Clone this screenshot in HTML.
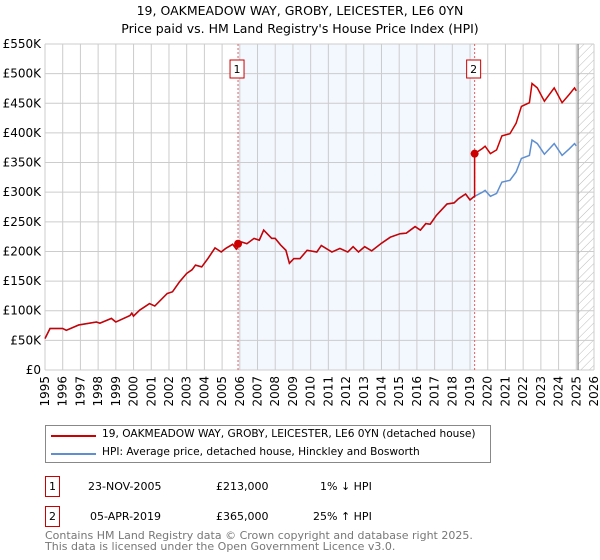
<!DOCTYPE html>
<html><head><meta charset="utf-8"><style>
body{margin:0;background:#fff;font-family:"DejaVu Sans","Liberation Sans",sans-serif;}
#wrap{position:relative;width:600px;height:560px;overflow:hidden;}
.t{position:absolute;font-size:12px;color:#000;white-space:nowrap;}
</style></head><body>
<div id="wrap">
<div class="t" style="left:0;width:600px;text-align:center;top:3px;font-size:12.5px">19, OAKMEADOW WAY, GROBY, LEICESTER, LE6 0YN</div>
<div class="t" style="left:0;width:600px;text-align:center;top:21px;font-size:12.5px">Price paid vs. HM Land Registry's House Price Index (HPI)</div>
<svg id="chart" width="600" height="420" style="position:absolute;left:0;top:0" font-family="DejaVu Sans, Liberation Sans, sans-serif" font-size="12"></svg>
<div style="position:absolute;left:45px;top:425px;width:444px;height:36px;border:1px solid #888;">
 <div><div style="position:absolute;left:5px;top:9px;width:45px;height:2px;background:#cc0000"></div><div class="t" style="left:56px;top:2px;font-size:10.6px">19, OAKMEADOW WAY, GROBY, LEICESTER, LE6 0YN (detached house)</div></div>
 <div><div style="position:absolute;left:5px;top:27px;width:45px;height:2px;background:#5e8fd0"></div><div class="t" style="left:56px;top:20px;font-size:10.6px">HPI: Average price, detached house, Hinckley and Bosworth</div></div>
</div>
<div>
 <div class="t" style="left:45px;top:476px;width:13px;height:19px;border:1px solid #cc0000;text-align:center;line-height:19px;font-size:11px">1</div>
 <div class="t" style="left:88px;top:480px;font-size:11px">23-NOV-2005</div>
 <div class="t" style="left:216px;top:480px;font-size:11px">£213,000</div>
 <div class="t" style="left:320px;top:480px;font-size:11px">1% ↓ HPI</div>
</div>
<div>
 <div class="t" style="left:45px;top:506px;width:13px;height:19px;border:1px solid #cc0000;text-align:center;line-height:19px;font-size:11px">2</div>
 <div class="t" style="left:90px;top:510px;font-size:11px">05-APR-2019</div>
 <div class="t" style="left:216px;top:510px;font-size:11px">£365,000</div>
 <div class="t" style="left:313px;top:510px;font-size:11px">25% ↑ HPI</div>
</div>
<div class="t" style="left:45px;top:530px;font-size:11px;color:#777;line-height:11px">Contains HM Land Registry data © Crown copyright and database right 2025.<br>This data is licensed under the Open Government Licence v3.0.</div>
</div>
<script>
const hpiYears=[1995.0,1995.28,1996.0,1996.2,1996.9,1997.9,1998.1,1998.75,1999.0,1999.8,1999.9,2000.0,2000.35,2000.9,2001.2,2001.9,2002.2,2002.6,2003.0,2003.3,2003.5,2003.85,2004.2,2004.6,2004.95,2005.2,2005.6,2005.8,2006.1,2006.4,2006.8,2007.1,2007.35,2007.8,2008.0,2008.3,2008.6,2008.8,2009.05,2009.4,2009.8,2010.35,2010.6,2011.2,2011.65,2012.1,2012.4,2012.7,2013.05,2013.45,2014.0,2014.5,2015.05,2015.4,2015.9,2016.2,2016.5,2016.75,2017.1,2017.7,2018.1,2018.35,2018.75,2019.0,2019.2,2019.7,2019.85,2020.15,2020.5,2020.8,2021.25,2021.6,2021.9,2022.35,2022.5,2022.8,2023.2,2023.75,2024.2,2024.6,2024.9,2025.0];
const hpiValues=[53,70,70,67,76,81,79,87,81,92,96,91,101,112,108,129,132,149,163,169,177,174,188,206,199,205,212,204,216,213,222,219,236,222,222,211,202,180,188,188,202,199,210,199,205,199,208,199,208,201,214,224,230,231,242,236,247,246,261,280,282,289,297,287,292,300,303,293,298,317,320,334,357,362,388,382,364,382,362,373,382,378];
const saleYears=[2005.9,2019.26];
const salePrices=[213,365];
const saleLabels=["1","2"];
const yTicks=[0,50,100,150,200,250,300,350,400,450,500,550];
const yTickLabels=["£0","£50K","£100K","£150K","£200K","£250K","£300K","£350K","£400K","£450K","£500K","£550K"];
const xTicks=[1995,1996,1997,1998,1999,2000,2001,2002,2003,2004,2005,2006,2007,2008,2009,2010,2011,2012,2013,2014,2015,2016,2017,2018,2019,2020,2021,2022,2023,2024,2025,2026];
const dataEnd=2025.1;

const X0=45,X1=594,Y0=370,Y1=44;
const xs=y=>X0+(y-1995)/(2026-1995)*(X1-X0);
const ys=v=>Y0-v/550*(Y0-Y1);
const svg=document.getElementById('chart');
const NS='http://www.w3.org/2000/svg';
function mk(tag,attrs,parent){const e=document.createElementNS(NS,tag);for(const k in attrs)e.setAttribute(k,attrs[k]);(parent||svg).appendChild(e);return e;}
const defs=mk('defs',{});
const pat=mk('pattern',{id:'hatch',width:6,height:6,patternUnits:'userSpaceOnUse',patternTransform:'rotate(45)'},defs);
mk('line',{x1:0,y1:0,x2:0,y2:6,stroke:'#bbb','stroke-width':1},pat);
const shade=mk('rect',{x:xs(saleYears[0]),y:Y1,width:xs(saleYears[1])-xs(saleYears[0]),height:Y0-Y1,fill:'#eef3fd',opacity:0.7});


const hatch=mk('rect',{x:xs(dataEnd),y:Y1,width:X1-xs(dataEnd),height:Y0-Y1,fill:'url(#hatch)'});


xTicks.forEach((t,i)=>{
 const l=mk('line',{x1:xs(t),x2:xs(t),y1:Y1,y2:Y0,stroke:'#ccc','stroke-width':1});
 
 
 const tx=mk('text',{x:0,y:0,transform:`translate(${xs(t)+4},${Y0+6}) rotate(-90)`,'text-anchor':'end'});
 tx.textContent=String(t);
 
 
});
yTicks.forEach((t,i)=>{
 const l=mk('line',{x1:X0,x2:X1,y1:ys(t),y2:ys(t),stroke:'#ccc','stroke-width':1});
 
 
 const tx=mk('text',{x:X0-4,y:ys(t)+4,'text-anchor':'end'});
 tx.textContent=yTickLabels[i];
 
 
});
const endLine=mk('line',{x1:xs(dataEnd),x2:xs(dataEnd),y1:Y1,y2:Y0,stroke:'#888','stroke-width':1.2});


saleYears.forEach((s,i)=>{
 const l=mk('line',{x1:xs(s),x2:xs(s),y1:Y1,y2:Y0,stroke:'#e06060','stroke-width':1,'stroke-dasharray':'2,2'});
 
 
 const b=mk('rect',{x:xs(s)-8,y:60,width:14,height:18,fill:'#fff',stroke:'#cc0000'});
 
 
 const tx=mk('text',{x:xs(s)-1,y:73,'text-anchor':'middle','font-size':11});
 tx.textContent=saleLabels[i];
 
 
});
const hp=hpiYears.map((y,i)=>xs(y).toFixed(1)+','+ys(hpiValues[i]).toFixed(1)).join(' ');
const hl=mk('polyline',{points:hp,fill:'none',stroke:'#5e8fd0','stroke-width':1.5});


function hpiAt(y){for(let i=1;i<hpiYears.length;i++){if(y<=hpiYears[i]){const f=(y-hpiYears[i-1])/(hpiYears[i]-hpiYears[i-1]);return hpiValues[i-1]+f*(hpiValues[i]-hpiValues[i-1]);}}return hpiValues[hpiValues.length-1];}
const pts=[];
const r2=salePrices[1]/hpiAt(saleYears[1]);
let jumped=false;
hpiYears.forEach((y,i)=>{
 if(y>saleYears[1]&&!jumped){pts.push([saleYears[1],hpiAt(saleYears[1])]);pts.push([saleYears[1],salePrices[1]]);jumped=true;}
 pts.push([y,hpiValues[i]*(y>saleYears[1]?r2:1)]);
});
const rl=mk('polyline',{points:pts.map(p=>xs(p[0]).toFixed(1)+','+ys(p[1]).toFixed(1)).join(' '),fill:'none',stroke:'#cc0000','stroke-width':1.5});


saleYears.forEach((s,i)=>{
 const c=mk('circle',{cx:xs(s),cy:ys(salePrices[i]),r:4,fill:'#cc0000'});
 
 
});
</script>
</body></html>
